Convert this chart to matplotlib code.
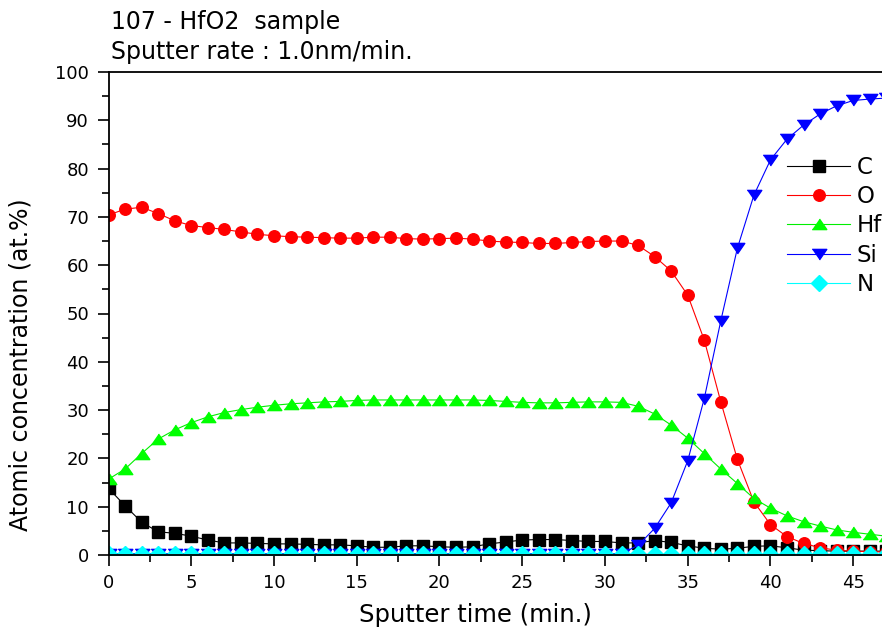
import matplotlib
matplotlib.use('Agg')
import matplotlib.pyplot as plt  # vẽ đồ thị
from matplotlib.ticker import MultipleLocator

plt.rcParams['font.family'] = ['DejaVu Sans']

# thời gian phún xạ (phút)
sputter_time = list(range(48))

# nồng độ nguyên tử (at.%) của từng nguyên tố
conc_C = [13.8, 10.2, 6.8, 4.8, 4.5, 3.9, 3.1, 2.5, 2.5, 2.4, 2.3, 2.3, 2.2, 2.1, 2.1, 1.9,
          1.6, 1.6, 1.9, 1.9, 1.7, 1.6, 1.7, 2.3, 2.7, 3.1, 3.2, 3.2, 3.0, 2.8, 2.8, 2.5,
          2.5, 3.0, 2.6, 1.9, 1.4, 1.2, 1.4, 1.8, 1.9, 1.5, 1.0, 0.9, 0.8, 0.8, 0.8, 0.8]
conc_O = [70.4, 71.6, 72.0, 70.7, 69.2, 68.2, 67.8, 67.4, 66.9, 66.4, 66.1, 65.9, 65.8, 65.7, 65.6, 65.6,
          65.8, 65.8, 65.5, 65.4, 65.5, 65.6, 65.4, 65.0, 64.8, 64.7, 64.5, 64.5, 64.7, 64.9, 65.0, 65.0,
          64.1, 61.8, 58.8, 53.8, 44.5, 31.7, 19.8, 11.0, 6.3, 3.8, 2.4, 1.5, 1.0, 0.8, 0.7, 0.6]
conc_Hf = [15.7, 17.8, 21.0, 24.0, 25.9, 27.4, 28.6, 29.5, 30.1, 30.6, 31.0, 31.3, 31.5, 31.7, 31.8, 32.0,
           32.1, 32.1, 32.1, 32.1, 32.1, 32.1, 32.1, 32.0, 31.8, 31.6, 31.5, 31.5, 31.6, 31.7, 31.7, 31.6,
           30.8, 29.2, 26.9, 24.2, 21.0, 17.8, 14.8, 11.7, 9.7, 8.1, 6.9, 6.0, 5.2, 4.7, 4.3, 3.9]
conc_Si = [0.3, 0.3, 0.3, 0.3, 0.3, 0.3, 0.3, 0.3, 0.3, 0.3, 0.3, 0.3, 0.3, 0.3, 0.3, 0.3,
           0.3, 0.3, 0.3, 0.3, 0.3, 0.3, 0.3, 0.3, 0.3, 0.3, 0.3, 0.3, 0.3, 0.3, 0.3, 0.3,
           2.0, 5.5, 10.8, 19.5, 32.4, 48.5, 63.5, 74.5, 81.8, 86.1, 89.0, 91.3, 93.0, 94.1, 94.4, 94.6]
conc_N = [0.3] * 48

# tam giác dẹt giống Origin
tri_up = [(-1, -0.7), (1, -0.7), (0, 0.75)]
tri_down = [(-1, 0.7), (1, 0.7), (0, -0.75)]

fig = plt.figure(figsize=(8.82, 6.29), dpi=100)
ax = fig.add_axes([108.5 / 882, 74 / 629, 773.5 / 882, 483 / 629])

ax.plot(sputter_time, conc_C, color='black', lw=0.8, marker='s', ms=9, mec='black', label='C')
ax.plot(sputter_time, conc_O, color='red', lw=0.8, marker='o', ms=8.3, mec='red', label='O')
ax.plot(sputter_time, conc_Hf, color='#00ee00', lw=0.8, marker=tri_up, ms=10.5, mfc='#00ff00',
        mec='#00ff00', label='Hf')
ax.plot(sputter_time, conc_Si, color='blue', lw=0.8, marker=tri_down, ms=10.5, mec='blue', label='Si')
ax.plot(sputter_time, conc_N, color='cyan', lw=0.8, marker='D', ms=8, mec='cyan', label='N')

ax.set_xlim(0, 46.74)
ax.set_ylim(0, 100)
ax.xaxis.set_major_locator(MultipleLocator(5))
ax.xaxis.set_minor_locator(MultipleLocator(2.5))
ax.yaxis.set_major_locator(MultipleLocator(10))
ax.yaxis.set_minor_locator(MultipleLocator(5))
ax.tick_params(which='major', direction='out', length=8, width=1.2, labelsize=13, pad=6)
ax.tick_params(which='minor', direction='out', length=5, width=1.2)
ax.spines['right'].set_visible(False)
for s in ['left', 'top', 'bottom']:
    ax.spines[s].set_linewidth(1.3)

ax.set_xlabel('Sputter time (min.)', fontsize=17.5)
ax.xaxis.set_label_coords(0.474, -0.1)
ax.set_ylabel('Atomic concentration (at.%)', fontsize=17)
ax.yaxis.set_label_coords(-0.098, 0.393)

# tiêu đề hai dòng
fig.text(111 / 882, 1 - 22 / 629, '107 - HfO2  sample', fontsize=17, va='center', ha='left')
fig.text(111 / 882, 1 - 52 / 629, 'Sputter rate : 1.0nm/min.', fontsize=17, va='center', ha='left')

leg = ax.legend(loc='upper left', bbox_to_anchor=(787 / 882, 1 - 156 / 629), bbox_transform=fig.transFigure,
                frameon=False, fontsize=16.5, numpoints=1, handlelength=2.75, handletextpad=0.3,
                labelspacing=0.27, borderpad=0, borderaxespad=0)

fig.savefig('out.png', dpi=100)
